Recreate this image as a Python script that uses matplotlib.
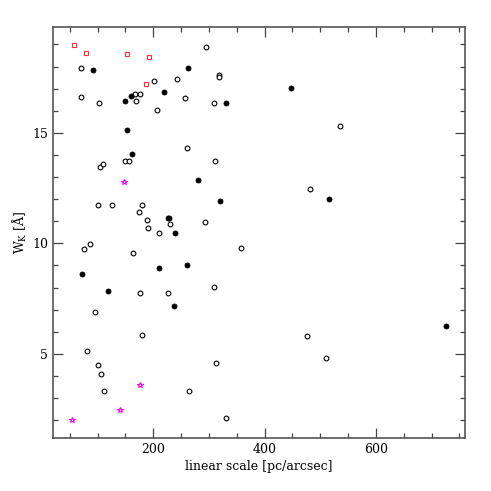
import matplotlib
matplotlib.use("Agg")
import matplotlib.pyplot as plt
from matplotlib.ticker import MultipleLocator

# Filled circles
filled_x = [91.6, 263.3, 219.1, 159.9, 148.4, 331.6, 153.2, 162.7, 281.3, 320.3,
            226.3, 228.7, 240.0, 446.6, 515.5, 72.9, 211.2, 261.0, 119.1, 237.1, 726.8]
filled_y = [17.84, 17.91, 16.86, 16.66, 16.42, 16.35, 15.15, 14.03, 12.87, 11.91,
            11.13, 11.13, 10.47, 17.01, 12.00, 8.62, 8.90, 9.02, 7.85, 7.17, 6.24]

# Open circles
open_x = [293.9, 70.6, 317.9, 319.0, 200.5, 241.8, 70.6, 102.4, 168.1, 177.1,
          168.9, 205.9, 256.9, 310.0, 261.0, 311.3, 149.6, 156.3, 104.2, 110.1,
          100.6, 126.8, 180.2, 175.3, 188.6, 190.4, 231.0, 211.2, 292.8, 76.5,
          86.8, 358.5, 535.3, 482.5, 163.5, 176.6, 226.3, 309.0, 95.2, 180.7,
          81.9, 312.6, 101.1, 106.0, 112.4, 265.1, 331.6, 476.0, 510.1]
open_y = [18.87, 17.93, 17.61, 17.54, 17.34, 17.45, 16.60, 16.35, 16.75, 16.77,
          16.45, 16.04, 16.59, 16.36, 14.33, 13.73, 13.74, 13.71, 13.46, 13.58,
          11.75, 11.74, 11.74, 11.42, 11.06, 10.70, 10.89, 10.47, 10.95, 9.74,
          9.96, 9.79, 15.32, 12.44, 9.56, 7.75, 7.75, 8.01, 6.89, 5.86,
          5.14, 4.59, 4.50, 4.08, 3.34, 3.34, 2.09, 5.79, 4.81]

# Red open squares
sq_x = [58.0, 79.6, 152.7, 192.7, 186.8]
sq_y = [18.96, 18.59, 18.57, 18.41, 17.19]

# Magenta stars
star_x = [146.6, 53.9, 141.2, 176.6]
star_y = [12.78, 2.01, 2.45, 3.61]

plt.rcParams['font.family'] = ['DejaVu Serif']
fig = plt.figure(figsize=(4.91, 4.91), dpi=100)
ax = fig.add_axes([0.108, 0.1073, 0.839, 0.8383])

ax.plot(open_x, open_y, 'o', ms=3.4, mfc='white', mec='black', mew=0.8, ls='none')
ax.plot(filled_x, filled_y, 'o', ms=3.6, mfc='black', mec='black', mew=0.6, ls='none')
ax.plot(sq_x, sq_y, 's', ms=2.8, mfc='white', mec='#ff3030', mew=0.8, ls='none')
ax.plot(star_x, star_y, '*', ms=4.0, mfc='white', mec='#ff00ff', mew=0.8, ls='none')

ax.set_xlim(20, 760)
ax.set_ylim(1.18, 19.8)
ax.xaxis.set_major_locator(MultipleLocator(200))
ax.xaxis.set_minor_locator(MultipleLocator(50))
ax.yaxis.set_major_locator(MultipleLocator(5))
ax.yaxis.set_minor_locator(MultipleLocator(1))
ax.tick_params(which='both', direction='in', top=True, right=True, colors='#444444',
               labelcolor='black', labelsize=9)
ax.tick_params(which='major', length=7, width=0.9)
ax.tick_params(which='minor', length=3.5, width=0.9)
for s in ax.spines.values():
    s.set_color('#555555')
    s.set_linewidth(1.2)

ax.set_xlabel('linear scale [pc/arcsec]', fontsize=9, labelpad=3)
ax.set_ylabel(r'W$_{\mathregular{K}}$ [Å]', fontsize=9, labelpad=2)

fig.savefig('out.png', dpi=100)
